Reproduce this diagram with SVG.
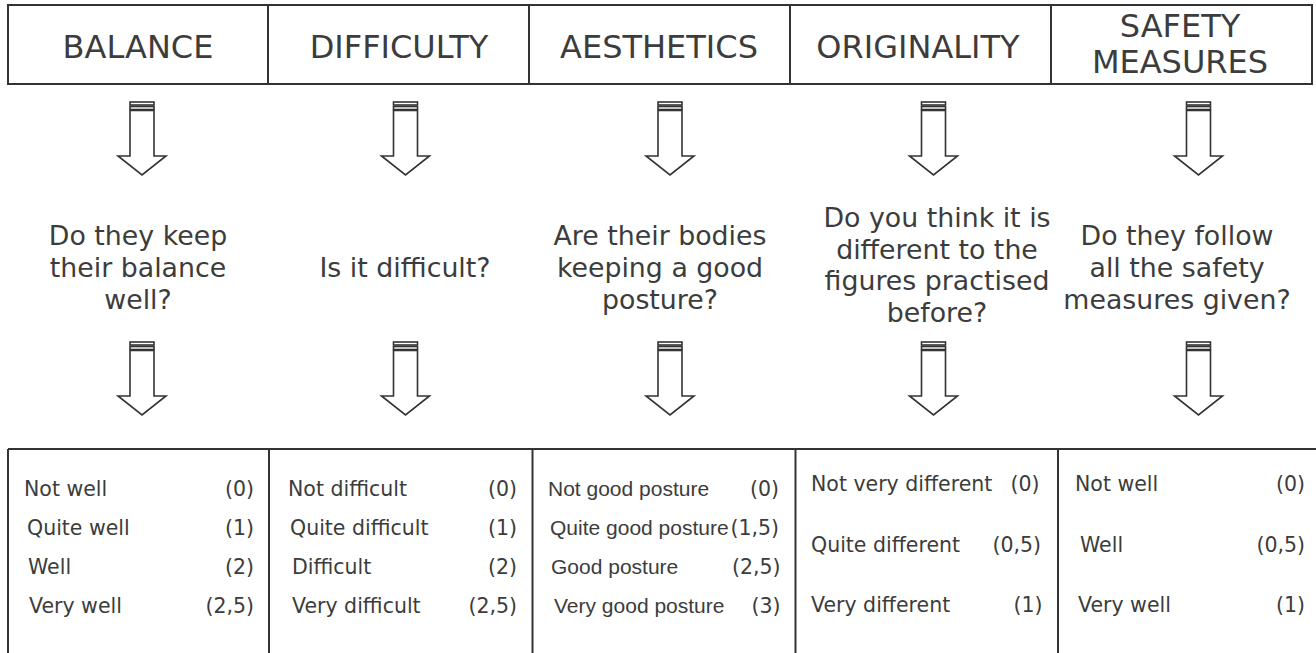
<svg xmlns="http://www.w3.org/2000/svg" xmlns:xlink="http://www.w3.org/1999/xlink" width="1316" height="653" viewBox="0 0 1316 653">
<style>
.ln{stroke:#333;stroke-width:2;fill:none}
.ar{stroke:#333;stroke-width:1.6;fill:#fff;stroke-linejoin:miter}
.hd{font-family:"DejaVu Sans",Verdana,sans-serif;font-size:32px;fill:#3c3c3c;text-anchor:middle}
.q{font-family:"DejaVu Sans",Verdana,sans-serif;font-size:26.8px;fill:#3c3c3c;text-anchor:middle}
.a{font-family:"DejaVu Sans",Verdana,sans-serif;font-size:20.5px;fill:#3c3c3c}
.v{font-family:"DejaVu Sans",Verdana,sans-serif;font-size:20.5px;fill:#3c3c3c;text-anchor:end}
.b{font-family:"Liberation Sans",Arial,sans-serif;font-size:21px;fill:#3c3c3c}
</style>
<defs>
<g id="arrow">
<rect class="ar" x="-12" y="0" width="24" height="3"/>
<rect class="ar" x="-12" y="4.5" width="24" height="3"/>
<path class="ar" d="M-12,8.5 V54 H-24 L0,73 L24,54 H12 V8.5 Z"/>
</g>
</defs>
<rect width="1316" height="653" fill="#fff"/>

<g id="header-table">
<rect class="ln" x="8" y="5" width="1304" height="79"/>
<line class="ln" x1="268" y1="5" x2="268" y2="84"/>
<line class="ln" x1="529" y1="5" x2="529" y2="84"/>
<line class="ln" x1="790" y1="5" x2="790" y2="84"/>
<line class="ln" x1="1051" y1="5" x2="1051" y2="84"/>
</g>
<g id="h-balance"><text class="hd" x="138" y="58">BALANCE</text></g>
<g id="h-difficulty"><text class="hd" x="399" y="58">DIFFICULTY</text></g>
<g id="h-aesthetics"><text class="hd" x="659" y="58">AESTHETICS</text></g>
<g id="h-originality"><text class="hd" x="918" y="58">ORIGINALITY</text></g>
<g id="h-safety"><text class="hd" x="1180" y="37">SAFETY</text><text class="hd" x="1180" y="73">MEASURES</text></g>

<g id="connectors">
<use xlink:href="#arrow" transform="translate(142,102)"/>
<use xlink:href="#arrow" transform="translate(405.5,102)"/>
<use xlink:href="#arrow" transform="translate(670,102)"/>
<use xlink:href="#arrow" transform="translate(933.5,102)"/>
<use xlink:href="#arrow" transform="translate(1198.5,102)"/>
<use xlink:href="#arrow" transform="translate(142,342)"/>
<use xlink:href="#arrow" transform="translate(405.5,342)"/>
<use xlink:href="#arrow" transform="translate(670,342)"/>
<use xlink:href="#arrow" transform="translate(933.5,342)"/>
<use xlink:href="#arrow" transform="translate(1198.5,342)"/>
</g>

<g id="q-balance"><text class="q" x="138" y="245">Do they keep</text><text class="q" x="138" y="277">their balance</text><text class="q" x="138" y="308.5">well?</text></g>
<g id="q-difficulty"><text class="q" x="405" y="277">Is it difficult?</text></g>
<g id="q-aesthetics"><text class="q" x="660" y="245">Are their bodies</text><text class="q" x="660" y="277">keeping a good</text><text class="q" x="660" y="308.5">posture?</text></g>
<g id="q-originality"><text class="q" x="937" y="227">Do you think it is</text><text class="q" x="937" y="258.5">different to the</text><text class="q" x="937" y="290">figures practised</text><text class="q" x="937" y="321.5">before?</text></g>
<g id="q-safety"><text class="q" x="1177" y="245">Do they follow</text><text class="q" x="1177" y="277">all the safety</text><text class="q" x="1177" y="308.5">measures given?</text></g>

<g id="answer-table">
<line class="ln" x1="8" y1="449" x2="1316" y2="449"/>
<line class="ln" x1="8" y1="449" x2="8" y2="653"/>
<line class="ln" x1="269" y1="449" x2="269" y2="653"/>
<line class="ln" x1="532.5" y1="449" x2="532.5" y2="653"/>
<line class="ln" x1="795.5" y1="449" x2="795.5" y2="653"/>
<line class="ln" x1="1058" y1="449" x2="1058" y2="653"/>
</g>
<g id="a-balance">
<text class="a" x="24" y="496">Not well</text><text class="v" x="254" y="496">(0)</text>
<text class="a" x="27" y="535">Quite well</text><text class="v" x="254" y="535">(1)</text>
<text class="a" x="28" y="574">Well</text><text class="v" x="254" y="574">(2)</text>
<text class="a" x="29" y="612.5">Very well</text><text class="v" x="254" y="612.5">(2,5)</text>
</g>
<g id="a-difficulty">
<text class="a" x="288" y="496">Not difficult</text><text class="v" x="517" y="496">(0)</text>
<text class="a" x="290" y="535">Quite difficult</text><text class="v" x="517" y="535">(1)</text>
<text class="a" x="292" y="574">Difficult</text><text class="v" x="517" y="574">(2)</text>
<text class="a" x="292" y="612.5">Very difficult</text><text class="v" x="517" y="612.5">(2,5)</text>
</g>
<g id="a-aesthetics">
<text class="b" x="548" y="496">Not good posture</text><text class="v" x="779" y="496">(0)</text>
<text class="b" x="550" y="535">Quite good posture</text><text class="v" x="779" y="535">(1,5)</text>
<text class="b" x="551" y="574">Good posture</text><text class="v" x="780.5" y="574">(2,5)</text>
<text class="b" x="554" y="612.5">Very good posture</text><text class="v" x="780.5" y="612.5">(3)</text>
</g>
<g id="a-originality">
<text class="a" x="811" y="491">Not very different</text><text class="v" x="1039.5" y="491">(0)</text>
<text class="a" x="811" y="551.5">Quite different</text><text class="v" x="1041" y="551.5">(0,5)</text>
<text class="a" x="811" y="611.5">Very different</text><text class="v" x="1042.5" y="611.5">(1)</text>
</g>
<g id="a-safety">
<text class="a" x="1075" y="491">Not well</text><text class="v" x="1305" y="491">(0)</text>
<text class="a" x="1080" y="551.5">Well</text><text class="v" x="1305" y="551.5">(0,5)</text>
<text class="a" x="1078" y="611.5">Very well</text><text class="v" x="1305" y="611.5">(1)</text>
</g>
</svg>
